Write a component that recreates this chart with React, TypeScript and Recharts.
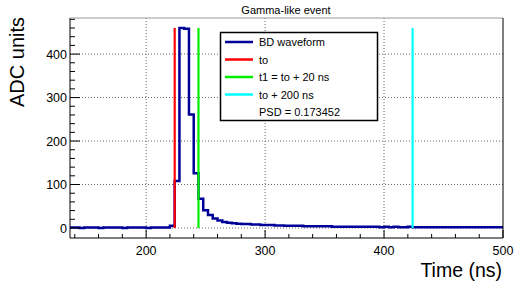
import React from "react";
import { ComposedChart, Line, XAxis, YAxis, ReferenceLine } from "recharts";

// Waveform: 4 ns bins starting at 136 ns
const binStart = 136;
const binWidth = 4;
const waveform = [
  1, 1, 0, 1, 1, 1, 0, 1, 1, 1, 1, 0, 1, 1, 1, 1, 0, 1, 1, 1, 1,
  5, 108, 460, 458, 261, 126, 67, 41, 30, 22, 17, 14, 12, 11, 10, 9, 9, 8, 8, 7, 7, 7,
  6, 6, 5, 5, 5, 5, 4, 4, 4, 4, 4, 4, 3, 3, 3, 3, 3, 3, 3, 3, 3, 3, 2, 3,
  2, 3, 2, 2, 3, 2, 2, 2, 2, 2, 2, 2, 2, 2, 2, 2, 2, 2, 2, 2, 2, 2, 2, 2,
];
const xEnd = 500;

const markerTimes = [224, 244, 424];
const markerColors = ["#ff0000", "#00ee00", "#00ffff"];
const markerTop = 460;

const xTicks = [140, 160, 180, 200, 220, 240, 260, 280, 300, 320, 340, 360, 380, 400, 420, 440, 460, 480, 500];
const yTicks = [0, 20, 40, 60, 80, 100, 120, 140, 160, 180, 200, 220, 240, 260, 280, 300, 320, 340, 360, 380, 400, 420, 440, 460, 480];
const xGrid = [200, 300, 400];
const yGrid = [0, 100, 200, 300, 400];

const legendLabels = ["BD waveform", "to", "t1 = to + 20 ns", "to + 200 ns", "PSD = 0.173452"];
const legendColors = ["#000099", "#ff0000", "#00ee00", "#00ffff", null];

const waveData = [
  ...waveform.map((v, i) => ({ t: binStart + i * binWidth, v })),
  { t: xEnd, v: waveform[waveform.length - 1] },
];

const markerData = markerTimes.map((t) => [
  { t, v: 0 },
  { t, v: markerTop },
]);

const FONT = "'Liberation Sans', Arial, Helvetica, sans-serif";

const YTick = (props: any) => {
  const { x, y, payload } = props;
  const v = payload.value;
  const major = v % 100 === 0;
  return (
    <g>
      <line x1={x} x2={x + (major ? 10 : 5)} y1={y} y2={y} stroke="#000" strokeWidth={1} />
      {major && (
        <text x={x - 3} y={y} dy={4.5} textAnchor="end" fontSize={12.5} fontFamily={FONT} fill="#000">
          {v}
        </text>
      )}
    </g>
  );
};

const XTick = (props: any) => {
  const { x, y, payload } = props;
  const v = payload.value;
  const major = v % 100 === 0;
  return (
    <g>
      <line x1={x} x2={x} y1={y} y2={y - (major ? 8 : 4)} stroke="#000" strokeWidth={1} />
      {major && (
        <text x={x} y={y} dy={17} textAnchor="middle" fontSize={12.5} fontFamily={FONT} fill="#000">
          {v}
        </text>
      )}
    </g>
  );
};

export default function App() {
  return (
    <div style={{ position: "absolute", left: 0, top: 0, width: 515, height: 284, background: "#fff" }}>
      <ComposedChart
        width={515}
        height={284}
        margin={{ top: 18, right: 12, bottom: 16, left: 10 }}
        data={waveData}
      >
        <XAxis
          dataKey="t"
          type="number"
          domain={[136, 500]}
          allowDataOverflow
          ticks={xTicks}
          interval={0}
          tickSize={0}
          tickMargin={0}
          tick={<XTick />}
          axisLine={{ stroke: "#000", strokeWidth: 1 }}
          tickLine={false}
          height={30}
        />
        <YAxis
          type="number"
          domain={[-23, 483]}
          allowDataOverflow
          ticks={yTicks}
          interval={0}
          tickSize={0}
          tickMargin={0}
          tick={<YTick />}
          axisLine={{ stroke: "#000", strokeWidth: 1 }}
          tickLine={false}
          width={60}
        />
        {xGrid.map((g) => (
          <ReferenceLine key={"x" + g} x={g} stroke="#666" strokeDasharray="1 2" strokeWidth={1} />
        ))}
        {yGrid.map((g) => (
          <ReferenceLine key={"y" + g} y={g} stroke="#666" strokeDasharray="1 2" strokeWidth={1} />
        ))}
        <Line
          dataKey="v"
          type="stepAfter"
          stroke="#000099"
          strokeWidth={2.5}
          dot={false}
          activeDot={false}
          isAnimationActive={false}
        />
        {markerData.map((d, i) => (
          <Line
            key={"m" + i}
            data={d}
            dataKey="v"
            type="linear"
            stroke={markerColors[i]}
            strokeWidth={2.2}
            dot={false}
            activeDot={false}
            isAnimationActive={false}
          />
        ))}
      </ComposedChart>
      <svg
        width={515}
        height={284}
        style={{ position: "absolute", left: 0, top: 0, pointerEvents: "none" }}
      >
        <line x1={70} x2={503} y1={18} y2={18} stroke="#999" strokeWidth={1} />
        <line x1={503} x2={503} y1={18} y2={238} stroke="#000" strokeWidth={1} />
        <text x={286} y={14} textAnchor="middle" fontSize={11} fontFamily={FONT} fill="#000">
          Gamma-like event
        </text>
        <text
          x={0}
          y={0}
          transform="translate(24,62) rotate(-90)"
          textAnchor="middle"
          fontSize={20}
          fontFamily={FONT}
          fill="#000"
        >
          ADC units
        </text>
        <text x={502} y={277} textAnchor="end" fontSize={19.5} fontFamily={FONT} fill="#000">
          Time (ns)
        </text>
        <rect x={220.5} y={32.5} width={157} height={88} fill="#fff" stroke="#000" strokeWidth={1.5} />
        {legendLabels.map((lab, i) => {
          const cy = 42 + i * 17.5;
          const c = legendColors[i];
          return (
            <g key={lab}>
              {c && <line x1={225} x2={253} y1={cy} y2={cy} stroke={c} strokeWidth={2.5} />}
              <text x={259} y={cy + 4} fontSize={11} fontFamily={FONT} fill="#000">
                {lab}
              </text>
            </g>
          );
        })}
      </svg>
    </div>
  );
}
